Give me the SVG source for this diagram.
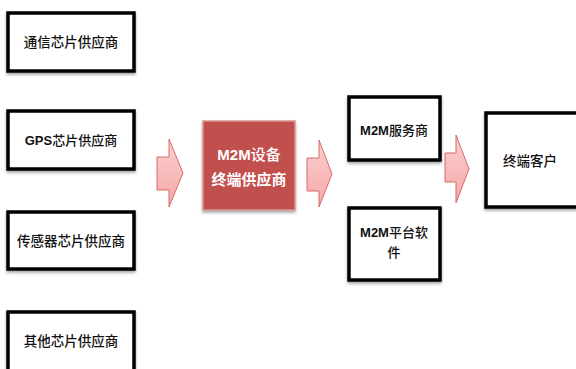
<svg xmlns="http://www.w3.org/2000/svg" width="576" height="369" viewBox="0 0 576 369">
<defs>
<filter id="sh" x="-10%" y="-10%" width="120%" height="130%">
<feDropShadow dx="0" dy="2" stdDeviation="1.5" flood-color="#000" flood-opacity="0.35"/>
</filter>
<linearGradient id="ag" x1="0" y1="0" x2="0" y2="1">
<stop offset="0" stop-color="#fbd0d0"/>
<stop offset="1" stop-color="#f5a8a8"/>
</linearGradient>
<style>
.box{fill:#fff;stroke:#000;stroke-width:3.5;filter:url(#sh)}
.t{font-family:"Liberation Serif","Noto Sans CJK SC",serif;font-size:13.5px;font-weight:500;fill:#111;text-anchor:middle}
.tb{font-family:"Liberation Sans","Noto Sans CJK SC",sans-serif;font-size:13px;font-weight:bold;fill:#111;text-anchor:middle}
.m{font-weight:500}
.tw{font-family:"Liberation Sans","Noto Sans CJK SC",sans-serif;font-size:15px;font-weight:bold;fill:#fff;text-anchor:middle}
.arr{fill:url(#ag);stroke:#d86a6a;stroke-width:1}
</style>
</defs>
<rect width="576" height="369" fill="#fff"/>
<g id="n1"><rect class="box" x="8" y="13" width="126" height="58"/><text class="t" x="71" y="47">通信芯片供应商</text></g>
<g id="n2"><rect class="box" x="8" y="111" width="126" height="58"/><text class="tb" x="71" y="145">GPS<tspan class="m">芯片供应商</tspan></text></g>
<g id="n3"><rect class="box" x="8" y="212" width="126" height="57"/><text class="t" x="71" y="246">传感器芯片供应商</text></g>
<g id="n4"><rect class="box" x="8" y="312" width="126" height="62"/><text class="t" x="71" y="346">其他芯片供应商</text></g>
<g id="n5"><rect x="203" y="121" width="92" height="89" fill="#c0504d" stroke="#d99694" stroke-width="1.5" filter="url(#sh)"/><text class="tw" x="249" y="160">M2M<tspan class="m">设备</tspan></text><text class="tw m" x="249" y="185">终端供应商</text></g>
<g id="n6"><rect class="box" x="349" y="97" width="91" height="63"/><text class="tb" x="394" y="135">M2M<tspan class="m">服务商</tspan></text></g>
<g id="n7"><rect class="box" x="349" y="208" width="91" height="72"/><text class="tb" x="394" y="237">M2M<tspan class="m">平台软</tspan></text><text class="tb m" x="394" y="257">件</text></g>
<g id="n8"><rect class="box" x="486" y="113" width="100" height="94"/><text class="t" x="530" y="166">终端客户</text></g>
<g id="connectors">
<polygon class="arr" points="157,157 169,157 169,139 183,173 169,207 169,190 157,190"/>
<polygon class="arr" points="307,158 319,158 319,140 332,174 319,207 319,191 307,191"/>
<polygon class="arr" points="445,153 456,153 456,135 469,169 456,203 456,182 445,182"/>
</g>
</svg>
